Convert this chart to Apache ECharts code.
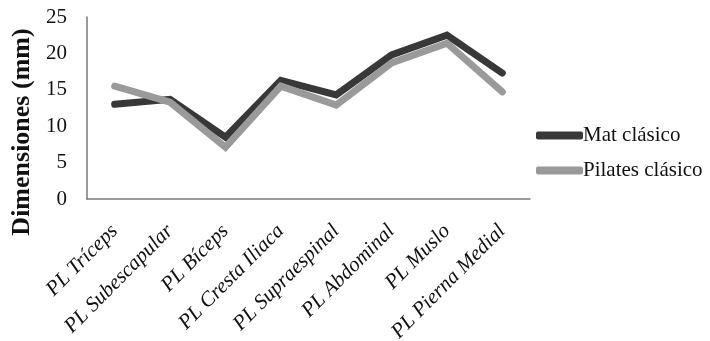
<!DOCTYPE html>
<html>
<head>
<meta charset="utf-8">
<script src="https://cdn.jsdelivr.net/npm/echarts@6/dist/echarts.min.js"></script>
<style>
  html, body { margin: 0; padding: 0; background: #ffffff; }
  #chart { width: 710px; height: 341px; }
</style>
</head>
<body>
<div id="chart"></div>
<script>
// Skinfold measurements (mm) by site
const categories = ['PL Tríceps', 'PL Subescapular', 'PL Bíceps', 'PL Cresta Iliaca',
  'PL Supraespinal', 'PL Abdominal', 'PL Muslo', 'PL Pierna Medial'];
const matClasico = [13.0, 13.7, 8.5, 16.3, 14.3, 19.8, 22.5, 17.3];
const pilatesClasico = [15.5, 13.3, 7.1, 15.5, 12.9, 18.7, 21.4, 14.7];
const yTicks = { min: 0, max: 25, interval: 5 };

const serif = '"Liberation Serif", "DejaVu Serif", serif';

const chart = echarts.init(document.getElementById('chart'), null, { renderer: 'canvas' });
chart.setOption({
  backgroundColor: '#ffffff',
  animation: false,
  grid: { left: 87, top: 17, width: 443, height: 182, outerBoundsMode: 'none' },
  legend: {
    orient: 'vertical',
    left: 531,
    top: 120,
    itemWidth: 47,
    itemHeight: 8,
    itemGap: 14,
    icon: 'roundRect',
    textStyle: { fontFamily: serif, fontSize: 21, color: '#111', padding: [0, 0, 0, -5] },
    data: ['Mat clásico', 'Pilates clásico']
  },
  xAxis: {
    type: 'category',
    data: categories,
    boundaryGap: true,
    axisLine: { lineStyle: { color: '#7a7a7a', width: 1.5 } },
    axisTick: { show: false },
    axisLabel: {
      interval: 0,
      rotate: 45,
      margin: 29,
      fontFamily: serif,
      fontStyle: 'italic',
      fontSize: 21,
      color: '#111'
    }
  },
  yAxis: {
    type: 'value',
    min: yTicks.min,
    max: yTicks.max,
    interval: yTicks.interval,
    name: 'Dimensiones (mm)',
    nameLocation: 'middle',
    nameGap: 48,
    nameTextStyle: {
      fontFamily: serif,
      fontWeight: 'bold',
      fontSize: 26,
      color: '#111',
      padding: [0, 48, 0, 0]
    },
    axisLine: { show: true, lineStyle: { color: '#7a7a7a', width: 1.5 } },
    axisTick: { show: false },
    splitLine: { show: false },
    axisLabel: { margin: 20, fontFamily: serif, fontSize: 21, color: '#111' }
  },
  series: [
    {
      name: 'Mat clásico',
      type: 'line',
      data: matClasico,
      symbol: 'none',
      lineStyle: { color: '#383838', width: 7, cap: 'round', join: 'miter' },
      itemStyle: { color: '#383838' }
    },
    {
      name: 'Pilates clásico',
      type: 'line',
      data: pilatesClasico,
      symbol: 'none',
      lineStyle: { color: '#9a9a9a', width: 7, cap: 'round', join: 'miter' },
      itemStyle: { color: '#9a9a9a' }
    }
  ]
});
</script>
</body>
</html>
